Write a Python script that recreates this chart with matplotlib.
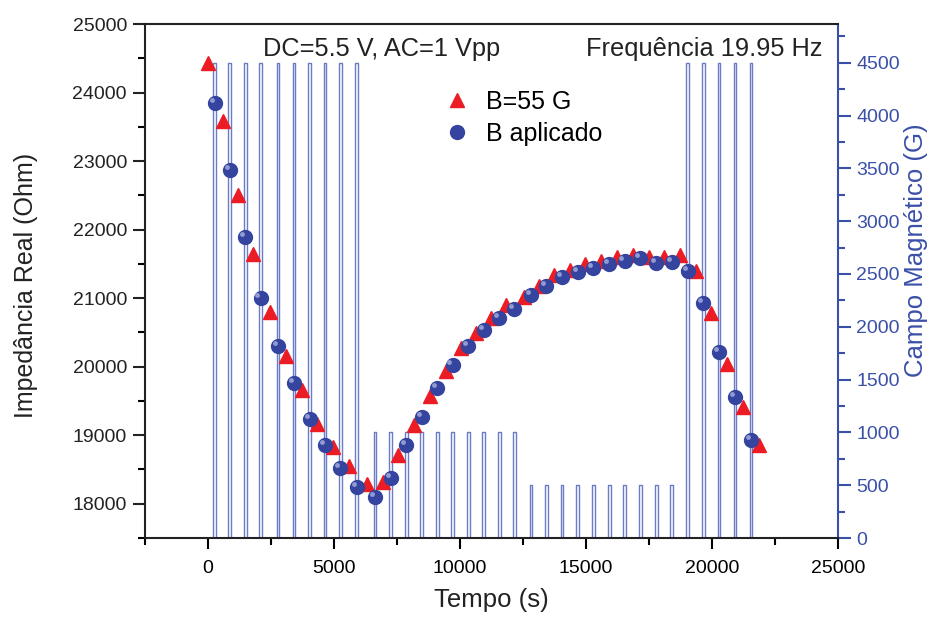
import matplotlib.pyplot as plt
from matplotlib.ticker import MultipleLocator
import matplotlib.transforms as mtransforms

# Dados
t_55G = [0, 578, 1172, 1792, 2466, 3100, 3721, 4343, 4977, 5583, 6323, 6942,
         7536, 8170, 8804, 9426, 10020, 10654, 11248, 11842, 12528, 13122, 13717,
         14378, 14972, 15606, 16228, 16846, 17480, 18099, 18736, 19370, 19964,
         20590, 21224, 21845]
z_55G = [24431, 23584, 22505, 21648, 20797, 20161, 19654, 19168, 18823, 18545,
         18291, 18311, 18706, 19144, 19576, 19942, 20274, 20491, 20714, 20904,
         21016, 21171, 21331, 21410, 21493, 21540, 21600, 21624, 21600, 21600,
         21624, 21391, 20780, 20034, 19415, 18856]

t_apl = [261, 868, 1475, 2084, 2782, 3417, 4037, 4644, 5253, 5899, 6625, 7247,
         7868, 8475, 9097, 9703, 10325, 10943, 11553, 12159, 12821, 13428, 14049,
         14667, 15289, 15923, 16529, 17152, 17786, 18407, 19041, 19659, 20281,
         20915, 21549]
z_apl = [23843, 22874, 21887, 21006, 20297, 19757, 19232, 18857, 18525, 18240,
         18103, 18371, 18861, 19270, 19684, 20024, 20297, 20535, 20710, 20837,
         21045, 21177, 21308, 21386, 21440, 21493, 21537, 21581, 21508, 21532,
         21401, 20933, 20218, 19562, 18930]

# Pulsos de campo magnético (G), um por medida com campo aplicado
campo = [4500] * 10 + [1000] * 10 + [500] * 10 + [4500] * 5
largura_pulso = 110  # s

RED = '#ec1c24'
BLUE = '#34449f'
AXBLUE = '#3a50a8'
PULSE = '#6a7cc6'

plt.rcParams['font.family'] = ['Liberation Sans', 'DejaVu Sans']

fig = plt.figure(figsize=(9.3, 6.17), dpi=100)
ax1 = fig.add_axes([0.1559, 0.128, 0.9011 - 0.1559, 0.961 - 0.128])
ax2 = ax1.twinx()

# sinal de campo (onda quadrada)
xs, ys = [], []
for t, b in zip(t_apl, campo):
    a, c = t - largura_pulso / 2, t + largura_pulso / 2
    xs += [a, a, c, c]
    ys += [0, b, b, 0]
ax2.plot(xs, ys, color=PULSE, lw=1.0, zorder=1)
ax2.set_ylim(0, 4866)

ax1.set_zorder(ax2.get_zorder() + 1)
ax1.patch.set_visible(False)

ax1.plot(t_55G, z_55G, linestyle='none', marker='^', ms=10, color=RED,
         mec=RED, label='B=55 G', zorder=3)
ax1.plot(t_apl, z_apl, linestyle='none', marker='o', ms=10, color=BLUE,
         mec=BLUE, label='B aplicado', zorder=4)
# brilho das esferas
off = mtransforms.offset_copy(ax1.transData, fig=fig, x=-2.2, y=2.2, units='points')
ax1.plot(t_apl, z_apl, linestyle='none', marker='o', ms=3.5, color='#a9b2e0',
         mec='none', alpha=0.8, transform=off, zorder=5)

ax1.set_xlim(-2500, 25000)
ax1.set_ylim(17500, 25000)

ax1.xaxis.set_minor_locator(MultipleLocator(2500))
ax1.yaxis.set_minor_locator(MultipleLocator(500))
ax2.yaxis.set_minor_locator(MultipleLocator(250))

ax1.set_yticks(list(range(18000, 25001, 1000)))
ax1.set_xticks(list(range(0, 25001, 5000)))
ax2.set_yticks(list(range(0, 4501, 500)))

ax1.tick_params(axis='y', which='major', direction='out', length=9, width=1.5,
                labelsize=14, colors='#222222', pad=4)
ax1.tick_params(axis='y', which='minor', direction='out', length=5, width=1.5)
ax1.tick_params(axis='x', which='major', direction='out', length=8, width=1.5,
                labelsize=14, pad=8)
ax1.tick_params(axis='x', which='minor', direction='out', length=5, width=1.5)
ax2.tick_params(axis='y', which='major', direction='out', length=9, width=1.5,
                labelsize=14, colors=AXBLUE, pad=4)
ax2.tick_params(axis='y', which='minor', direction='out', length=5, width=1.5,
                colors=AXBLUE)

for s in ['left', 'bottom', 'top']:
    ax1.spines[s].set_linewidth(1.5)
    ax1.spines[s].set_color('#222222')
ax1.spines['right'].set_visible(False)
ax2.spines['right'].set_color(AXBLUE)
ax2.spines['right'].set_linewidth(1.5)
for s in ['left', 'bottom', 'top']:
    ax2.spines[s].set_visible(False)

ax1.set_xlabel('Tempo (s)', fontsize=18.5, color='#222222', labelpad=8)
ax1.set_ylabel('Impedância Real (Ohm)', fontsize=18, color='#222222')
ax1.yaxis.set_label_coords(-0.155, 0.492)
ax2.set_ylabel('Campo Magnético (G)', fontsize=18.5, color=AXBLUE)
ax2.yaxis.set_label_coords(1.095, 0.56)

ax1.text(0.170, 0.975, 'DC=5.5 V, AC=1 Vpp', transform=ax1.transAxes,
         fontsize=18.3, color='#222222', ha='left', va='top')
ax1.text(0.977, 0.975, 'Frequência 19.95 Hz', transform=ax1.transAxes,
         fontsize=18.3, color='#222222', ha='right', va='top')

ax1.legend(loc='upper left', bbox_to_anchor=(0.40, 0.915), frameon=False,
           fontsize=18, handlelength=1.0, handletextpad=0.65, labelspacing=0.3,
           markerscale=1.0)

fig.savefig('out.png', dpi=100)
